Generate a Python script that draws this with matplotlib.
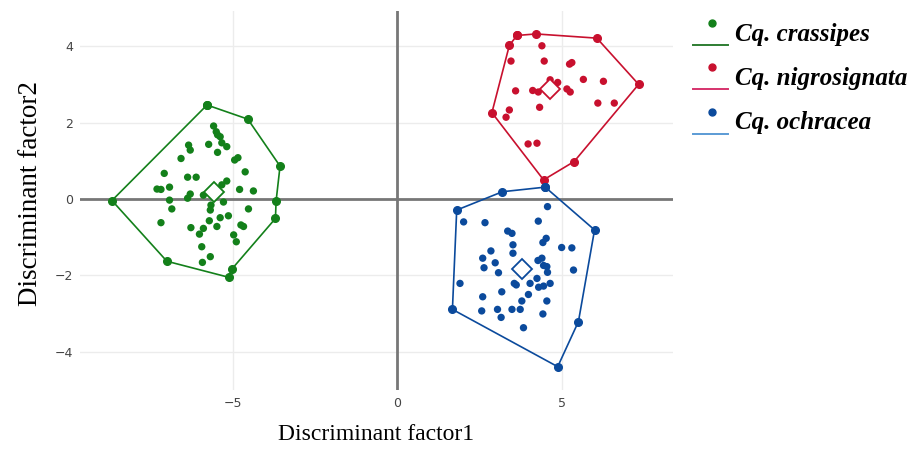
import matplotlib
matplotlib.use("Agg")
import matplotlib.pyplot as plt
from matplotlib.legend_handler import HandlerBase
from matplotlib.lines import Line2D

# --- Discriminant scores ---
# hull vertices are listed in drawing order; the polygon is closed afterwards
crassipes_hull_x = [-5.78, -4.54, -3.56, -3.68, -3.70, -5.02, -5.12, -7.00, -8.67]
crassipes_hull_y = [2.46, 2.09, 0.86, -0.05, -0.51, -1.83, -2.05, -1.63, -0.04]
crassipes_x = [-5.58, -5.50, -5.46, -5.38, -5.33, -5.18, -5.73, -5.46, -6.34, -6.29,
               -6.57, -4.94, -4.84, -4.62, -7.08, -6.37, -6.11, -7.30, -7.18, -6.92,
               -6.29, -6.37, -6.92, -6.85, -7.18, -5.89, -5.48, -5.33, -5.18, -4.79,
               -4.37, -5.28, -5.66, -5.68, -5.71, -5.38, -5.13, -4.52, -6.27, -5.89,
               -6.01, -5.48, -4.75, -4.67, -4.97, -4.89, -5.94, -5.68, -5.92]
crassipes_y = [1.91, 1.76, 1.68, 1.63, 1.47, 1.37, 1.43, 1.22, 1.41, 1.28,
               1.06, 1.02, 1.08, 0.71, 0.67, 0.57, 0.57, 0.26, 0.25, 0.31,
               0.13, 0.02, -0.03, -0.26, -0.62, 0.10, 0.26, 0.37, 0.47, 0.25,
               0.21, -0.08, -0.16, -0.29, -0.57, -0.49, -0.44, -0.26, -0.75, -0.77,
               -0.92, -0.72, -0.68, -0.72, -0.94, -1.12, -1.25, -1.51, -1.66]
crassipes_centroid = (-5.58, 0.19)

nigro_hull_x = [3.64, 4.22, 6.07, 7.34, 5.38, 4.45, 2.88, 3.41]
nigro_hull_y = [4.28, 4.32, 4.21, 3.00, 0.98, 0.50, 2.26, 4.02]
nigro_x = [4.40, 3.46, 4.47, 5.24, 5.31, 4.65, 4.88, 5.66, 6.27, 3.60, 4.12,
           4.29, 5.16, 5.26, 4.33, 6.10, 6.60, 3.41, 3.31, 3.98, 4.25]
nigro_y = [4.01, 3.61, 3.61, 3.53, 3.57, 3.12, 3.05, 3.13, 3.08, 2.83, 2.84,
           2.80, 2.88, 2.80, 2.40, 2.51, 2.51, 2.33, 2.14, 1.44, 1.46]
nigro_centroid = (4.65, 2.87)

ochra_hull_x = [4.50, 6.00, 5.51, 4.88, 1.68, 1.81, 3.20]
ochra_hull_y = [0.31, -0.81, -3.21, -4.39, -2.89, -0.29, 0.19]
ochra_x = [4.57, 2.02, 2.67, 4.29, 3.36, 3.49, 4.53, 4.43, 3.52, 5.00, 5.31,
           2.85, 3.52, 2.60, 2.98, 4.40, 4.28, 4.45, 4.55, 2.64, 3.08, 4.57,
           5.36, 4.25, 1.91, 3.56, 3.62, 4.04, 4.30, 4.45, 4.65, 3.18, 3.99,
           2.60, 3.79, 4.55, 2.57, 3.05, 3.16, 3.49, 3.74, 4.43, 3.84]
ochra_y = [-0.20, -0.60, -0.62, -0.58, -0.84, -0.90, -1.03, -1.14, -1.20, -1.27, -1.28,
           -1.36, -1.42, -1.55, -1.67, -1.55, -1.61, -1.74, -1.77, -1.80, -1.93, -1.92,
           -1.86, -2.08, -2.21, -2.21, -2.25, -2.21, -2.31, -2.28, -2.21, -2.43, -2.50,
           -2.56, -2.67, -2.67, -2.93, -2.89, -3.10, -2.89, -2.89, -3.01, -3.37]
ochra_centroid = (3.79, -1.84)

species = ["Cq. crassipes", "Cq. nigrosignata", "Cq. ochracea"]
point_colors = ["#13801a", "#c8102e", "#0b4a9c"]
legend_line_colors = ["#2e7d32", "#d6336c", "#5b9bd5"]


class DotOverLine(HandlerBase):
    # legend key: small dot with a short line under it
    def create_artists(self, legend, orig_handle, xdescent, ydescent,
                       width, height, fontsize, trans):
        line = Line2D([0, width], [-0.2 * height, -0.2 * height],
                      color=orig_handle.get_color(), lw=1.4)
        dot = Line2D([width * 0.55], [height * 0.78], marker="o", ms=5,
                     color=orig_handle.get_markerfacecolor(), ls="none")
        line.set_transform(trans)
        dot.set_transform(trans)
        return [line, dot]


fig = plt.figure(figsize=(9.21, 4.65), dpi=100)
ax = fig.add_axes([0.0869, 0.1613, 0.6433, 0.815])

groups = [
    (crassipes_x, crassipes_y, crassipes_hull_x, crassipes_hull_y, crassipes_centroid),
    (nigro_x, nigro_y, nigro_hull_x, nigro_hull_y, nigro_centroid),
    (ochra_x, ochra_y, ochra_hull_x, ochra_hull_y, ochra_centroid),
]

# grid and zero lines in the plotly look
for gx in [-5, 5]:
    ax.axvline(gx, color="#ececec", lw=1, zorder=0)
for gy in [-4, -2, 2, 4]:
    ax.axhline(gy, color="#ececec", lw=1, zorder=0)
ax.axhline(0, color="#777777", lw=2, zorder=1)
ax.axvline(0, color="#777777", lw=2, zorder=1)

handles = []
for (px, py, hx, hy, cen), col, lcol, name in zip(groups, point_colors,
                                                  legend_line_colors, species):
    ax.plot(hx + hx[:1], hy + hy[:1], color=col, lw=1.2, marker="o", ms=5.5, zorder=3)
    ax.scatter(px, py, s=28, color=col, edgecolors="none", zorder=3)
    ax.plot([cen[0]], [cen[1]], marker="D", ms=10, mfc="white", mec=col, mew=1.3,
            ls="none", zorder=4)
    handles.append(Line2D([], [], color=lcol, marker="o", mfc=col, label=name))

ax.set_xlim(-9.64, 8.37)
ax.set_ylim(-5.0, 4.92)
ax.set_xticks([-5, 0, 5])
ax.set_yticks([-4, -2, 0, 2, 4])
ax.tick_params(length=0, labelsize=9, labelcolor="#444444", pad=5)
for s in ax.spines.values():
    s.set_visible(False)

ax.set_xlabel("Discriminant factor1", family="Liberation Serif", fontsize=17, labelpad=10)
ax.set_ylabel("Discriminant factor2", family="Liberation Serif", fontsize=19.5)
ax.yaxis.set_label_coords(-0.063, 0.518)

fig.legend(handles=handles, handler_map={Line2D: DotOverLine()},
           loc="upper left", bbox_to_anchor=(0.752, 0.955), frameon=False,
           borderpad=0, borderaxespad=0,
           handlelength=1.4, handleheight=1.0, labelspacing=0.78, handletextpad=0.28,
           prop={"family": "Liberation Serif", "weight": "bold", "style": "italic",
                 "size": 18})

fig.savefig("out.png", dpi=100)
